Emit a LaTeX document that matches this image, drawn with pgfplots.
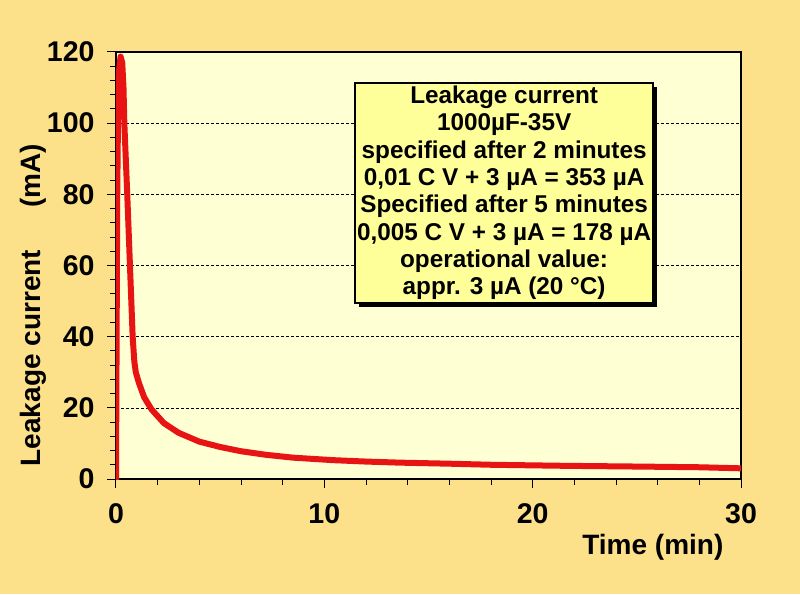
\documentclass[border=0pt]{standalone}
\usepackage{pgfplots}
\pgfplotsset{compat=1.18}
\usepackage{fontspec}
\setmainfont{Liberation Sans}
\usetikzlibrary{shadows}
\definecolor{bgcol}{HTML}{FCE08A}
\definecolor{plotbg}{HTML}{FFFFD4}
\definecolor{boxcol}{HTML}{FFFF99}
\definecolor{curvecol}{HTML}{E81414}

\begin{document}
\begin{tikzpicture}
\fill[bgcol] (-116pt,-115pt) rectangle (684pt,479pt);
\useasboundingbox (-116pt,-115pt) rectangle (684pt,479pt);
\begin{axis}[
  scale only axis, width=625pt, height=427pt,
  xmin=0, xmax=30, ymin=0, ymax=120,
  axis background/.style={fill=plotbg},
  xtick={0,10,20,30}, ytick={0,20,...,120},
  minor x tick num=4, minor y tick num=4,
  tick align=outside, tick pos=left,
  major tick length=9pt, minor tick length=6pt,
  every tick/.style={black, line width=1pt},
  axis line style={line width=1.4pt},
  ymajorgrids, grid style={black, densely dashed, line width=0.5pt},
  ticklabel style={font=\fontsize{28.5}{28.5}\selectfont\bfseries},
  yticklabel style={xshift=-9pt},
  xticklabel style={yshift=-12pt},
  /pgf/number format/assume math mode=true,
  ylabel={Leakage current\hspace{1.5em}(mA)},
  xlabel={Time (min)},
  label style={font=\fontsize{28}{28}\selectfont\bfseries},
  ylabel style={at={(axis description cs:-0.133,0.407)}, anchor=center, rotate=0},
  xlabel style={at={(axis description cs:0.859,-0.159)}, anchor=center},
]
\addplot[curvecol, line width=6pt, line join=round, line cap=round] coordinates {
  (0,0) (0.03,40) (0.06,80) (0.1,104) (0.15,115) (0.22,118.7) (0.3,117)
  (0.36,110) (0.4,100) (0.54,80) (0.67,60) (0.8,40) (0.88,33) (0.95,30)
  (1.1,27) (1.35,23) (1.7,19.6) (2.3,15.7) (3,13) (4,10.5) (5,9)
  (6,7.8) (7.2,6.8) (8.5,6) (10.4,5.3) (12,4.9) (13.6,4.6) (16,4.3)
  (18,4.0) (21.6,3.7) (25,3.5) (28,3.3) (30,3.0)
};
\node[draw=black, line width=1.5pt, fill=boxcol, align=center,
  minimum width=298pt, minimum height=220pt, inner sep=1pt,
  font=\fontsize{24.3}{27.3}\selectfont\bfseries,
  drop shadow={shadow xshift=4pt, shadow yshift=-4pt, fill=black, opacity=1}]
  at (axis cs:18.63,80.4) {Leakage current\\1000µF-35V\\specified after 2 minutes\\0,01 C V + 3 µA = 353 µA\\Specified after 5 minutes\\0,005 C V + 3 µA = 178 µA\\operational value:\\appr. 3 µA (20 °C)};
\end{axis}
\end{tikzpicture}
\end{document}
